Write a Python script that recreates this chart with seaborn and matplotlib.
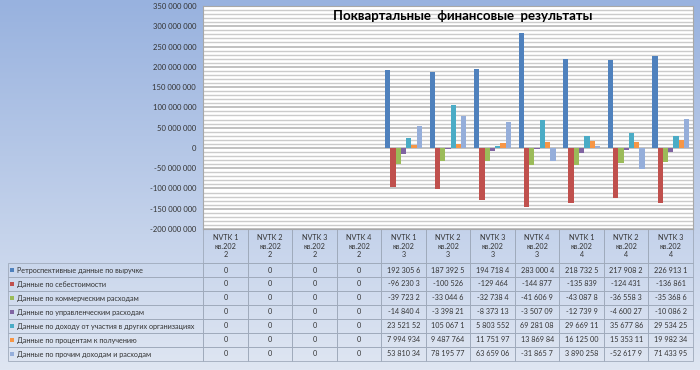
import numpy as np
import pandas as pd
import matplotlib
matplotlib.use('Agg')
import matplotlib.pyplot as plt
from matplotlib.patches import Rectangle
from matplotlib.ticker import MultipleLocator, FuncFormatter
import seaborn as sns

quarters = ['NVTK 1', 'NVTK 2', 'NVTK 3', 'NVTK 4'] * 2 + ['NVTK 1', 'NVTK 2', 'NVTK 3']
years = ['2022'] * 4 + ['2023'] * 4 + ['2024'] * 3

series = [
    'Ретроспективные данные по выручке',
    'Данные по себестоимости',
    'Данные по коммерческим расходам',
    'Данные по управленческим расходам',
    'Данные по доходу от участия в других организациях',
    'Данные по процентам к получению',
    'Данные по прочим доходам и расходам',
]
colors = ['#4F81BD', '#C0504D', '#9BBB59', '#8064A2', '#4BACC6', '#F79646', '#95AEDA']

revenue = [0, 0, 0, 0, 192305600, 187392500, 194718400, 283000400, 218732500, 217908200, 226913100]
cost = [0, 0, 0, 0, -96230300, -100526000, -129464000, -144877000, -135839000, -124431000, -136861000]
selling = [0, 0, 0, 0, -39723200, -33044600, -32738400, -41606900, -43087800, -36558300, -35368600]
admin = [0, 0, 0, 0, -14840400, -3398210, -8373130, -3507090, -12739900, -4600270, -10086200]
participation = [0, 0, 0, 0, 23521520, 105067100, 5803552, 69281080, 29669110, 35677860, 29534250]
interest = [0, 0, 0, 0, 7994934, 9487764, 11751970, 13869840, 16125000, 15353110, 19982340]
other = [0, 0, 0, 0, 53810340, 78195770, 63659060, -31865700, 3890258, -52617900, 71433950]
values = [revenue, cost, selling, admin, participation, interest, other]

periods = [f'{q} кв.{y}' for q, y in zip(quarters, years)]
headers = [f'{q}\nкв.{y[:3]}\n{y[3]}' for q, y in zip(quarters, years)]

rows = []
for name, vals in zip(series, values):
    for p, v in zip(periods, vals):
        rows.append({'period': p, 'series': name, 'value': v})
df = pd.DataFrame(rows)


def cell_str(v):
    # excel cuts the number when the column is too narrow
    s = f'{v:,}'.replace(',', ' ')
    return s[:9].rstrip()


plt.rcParams['font.family'] = ['Lato', 'DejaVu Sans']

W, H = 700, 370
fig = plt.figure(figsize=(7, 3.7), dpi=100)

# gradient background
bg = fig.add_axes([0, 0, 1, 1], zorder=-10)
top = np.array(matplotlib.colors.to_rgb('#98b2df'))
bot = np.array(matplotlib.colors.to_rgb('#dfe6f2'))
t = np.linspace(0, 1, 256)[:, None]
grad = (top * (1 - t) + bot * t)[:, None, :]
bg.imshow(grad, aspect='auto', extent=[0, 1, 0, 1])
bg.axis('off')

left, right, ytop, ybot = 203, 693, 6, 229
ax = fig.add_axes([left / W, 1 - ybot / H, (right - left) / W, (ybot - ytop) / H])
ax.set_facecolor('white')

sns.barplot(data=df, x='period', y='value', hue='series', order=periods, hue_order=series,
            palette=colors, saturation=1, width=0.83, legend=False, ax=ax, zorder=3)

ax.set_ylim(-200e6, 350e6)
ax.yaxis.set_major_locator(MultipleLocator(50e6))
ax.yaxis.set_minor_locator(MultipleLocator(10e6))
ax.yaxis.set_major_formatter(FuncFormatter(lambda v, p: f'{int(round(v)):,}'.replace(',', ' ')))
ax.grid(axis='y', which='major', color='#b0b0b0', lw=1.1, zorder=0)
ax.grid(axis='y', which='minor', color='#cbcbcb', lw=1.0, zorder=0)
ax.set_axisbelow(True)
ax.tick_params(axis='y', which='both', length=0, pad=5, labelsize=5.5, labelcolor='#333333')
ax.set_xticks([])
ax.set_xlabel('')
ax.set_ylabel('')
for s in ax.spines.values():
    s.set_color('#a8a8a8')
    s.set_linewidth(0.8)

ax.text(0.529, 0.955, 'Поквартальные  финансовые  результаты', transform=ax.transAxes,
        ha='center', va='center', fontsize=9.5, fontweight='bold', color='black')

# data table below the chart
tleft, tbottom = 8, 361
aw, ah = right - left, ybot - ytop
cell_text = [[name] + [cell_str(v) for v in vals] for name, vals in zip(series, values)]
tbl = ax.table(cellText=cell_text, colLabels=[''] + headers,
               colWidths=[195] + [44.5] * len(periods), cellLoc='center',
               bbox=[(tleft - left) / aw, -(tbottom - ybot) / ah,
                     (right - tleft) / aw, (tbottom - ybot) / ah])
tbl.auto_set_font_size(False)
tbl.set_fontsize(5.2)
for (r, c), cell in tbl.get_celld().items():
    cell.set_facecolor('none')
    cell.set_edgecolor('#9faabb')
    cell.set_linewidth(0.6)
    cell.get_text().set_color('#333333')
    if r == 0:
        cell.set_height(cell.get_height() * 34 / 14)
        if c == 0:
            cell.visible_edges = ''
    elif c == 0:
        cell._loc = 'left'
        cell.PAD = 0.046
        cell.get_text().set_horizontalalignment('left')

# legend keys in the table
for i, col in enumerate(colors):
    yc = 263 + 14 * (i + 0.5)
    fig.add_artist(Rectangle((10 / W, 1 - (yc + 2) / H), 4 / W, 4 / H,
                             transform=fig.transFigure, color=col, lw=0))

plt.savefig('out.png', dpi=100)
print("Saved out.png")
